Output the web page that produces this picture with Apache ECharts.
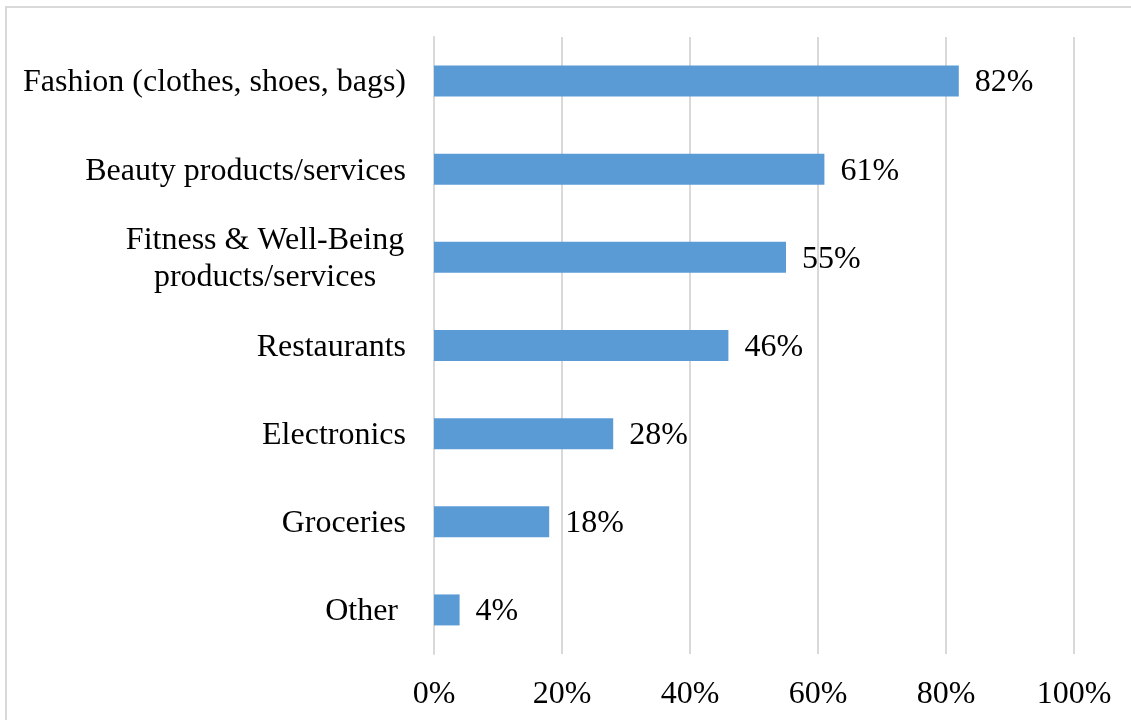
<!DOCTYPE html>
<html>
<head>
<meta charset="utf-8">
<script src="https://cdn.jsdelivr.net/npm/echarts@6/dist/echarts.min.js"></script>
<style>
  html, body { margin: 0; padding: 0; background: #fff; }
  #chart { width: 1131px; height: 720px; }
</style>
</head>
<body>
<div id="chart"></div>
<script>
// Product categories, top to bottom as shown
const categories = [
  'Fashion (clothes, shoes, bags)',
  'Beauty products/services',
  'Fitness & Well-Being\nproducts/services',
  'Restaurants',
  'Electronics',
  'Groceries',
  'Other '
];
// Share of respondents (%)
const shares = [82, 61, 55, 46, 28, 18, 4];
// Value axis tick range
const axisMin = 0;
const axisMax = 100;
const axisStep = 20;

const FONT = '"Liberation Serif", "Times New Roman", serif';

const chart = echarts.init(document.getElementById('chart'), null, { renderer: 'canvas' });

chart.setOption({
  animation: false,
  backgroundColor: '#ffffff',
  graphic: [{
    type: 'rect',
    silent: true,
    z: -10,
    shape: { x: 6, y: 7, width: 1300, height: 900 },
    style: { fill: 'none', stroke: '#d9d9d9', lineWidth: 2 }
  }],
  grid: { left: 434, right: 57, top: 37, bottom: 66, containLabel: false },
  xAxis: {
    type: 'value',
    min: axisMin,
    max: axisMax,
    interval: axisStep,
    axisLine: { show: false },
    axisTick: { show: false },
    splitLine: { show: true, lineStyle: { color: '#d9d9d9', width: 2 } },
    axisLabel: {
      formatter: v => v + '%',
      color: '#000',
      fontFamily: FONT,
      fontSize: 32,
      margin: 25
    }
  },
  yAxis: {
    type: 'category',
    inverse: true,
    data: categories,
    axisLine: { show: true, lineStyle: { color: '#d9d9d9', width: 2 } },
    axisTick: { show: false },
    axisLabel: {
      color: '#000',
      fontFamily: FONT,
      fontSize: 32,
      margin: 28,
      lineHeight: 37,
      padding: [4, 0, 0, 0],
      formatter: function (v) {
        if (v.indexOf('\n') < 0) return v;
        return v.split('\n').map(s => '{m|' + s + '}').join('\n');
      },
      rich: {
        m: { width: 282, align: 'center', fontFamily: FONT, fontSize: 32, lineHeight: 37, color: '#000' }
      }
    }
  },
  series: [{
    type: 'bar',
    data: shares,
    barWidth: 31,
    itemStyle: { color: '#5b9bd5' },
    label: {
      show: true,
      position: 'right',
      distance: 16,
      offset: [0, 2],
      formatter: p => p.value + '%',
      color: '#000',
      fontFamily: FONT,
      fontSize: 32
    }
  }]
});
</script>
</body>
</html>
